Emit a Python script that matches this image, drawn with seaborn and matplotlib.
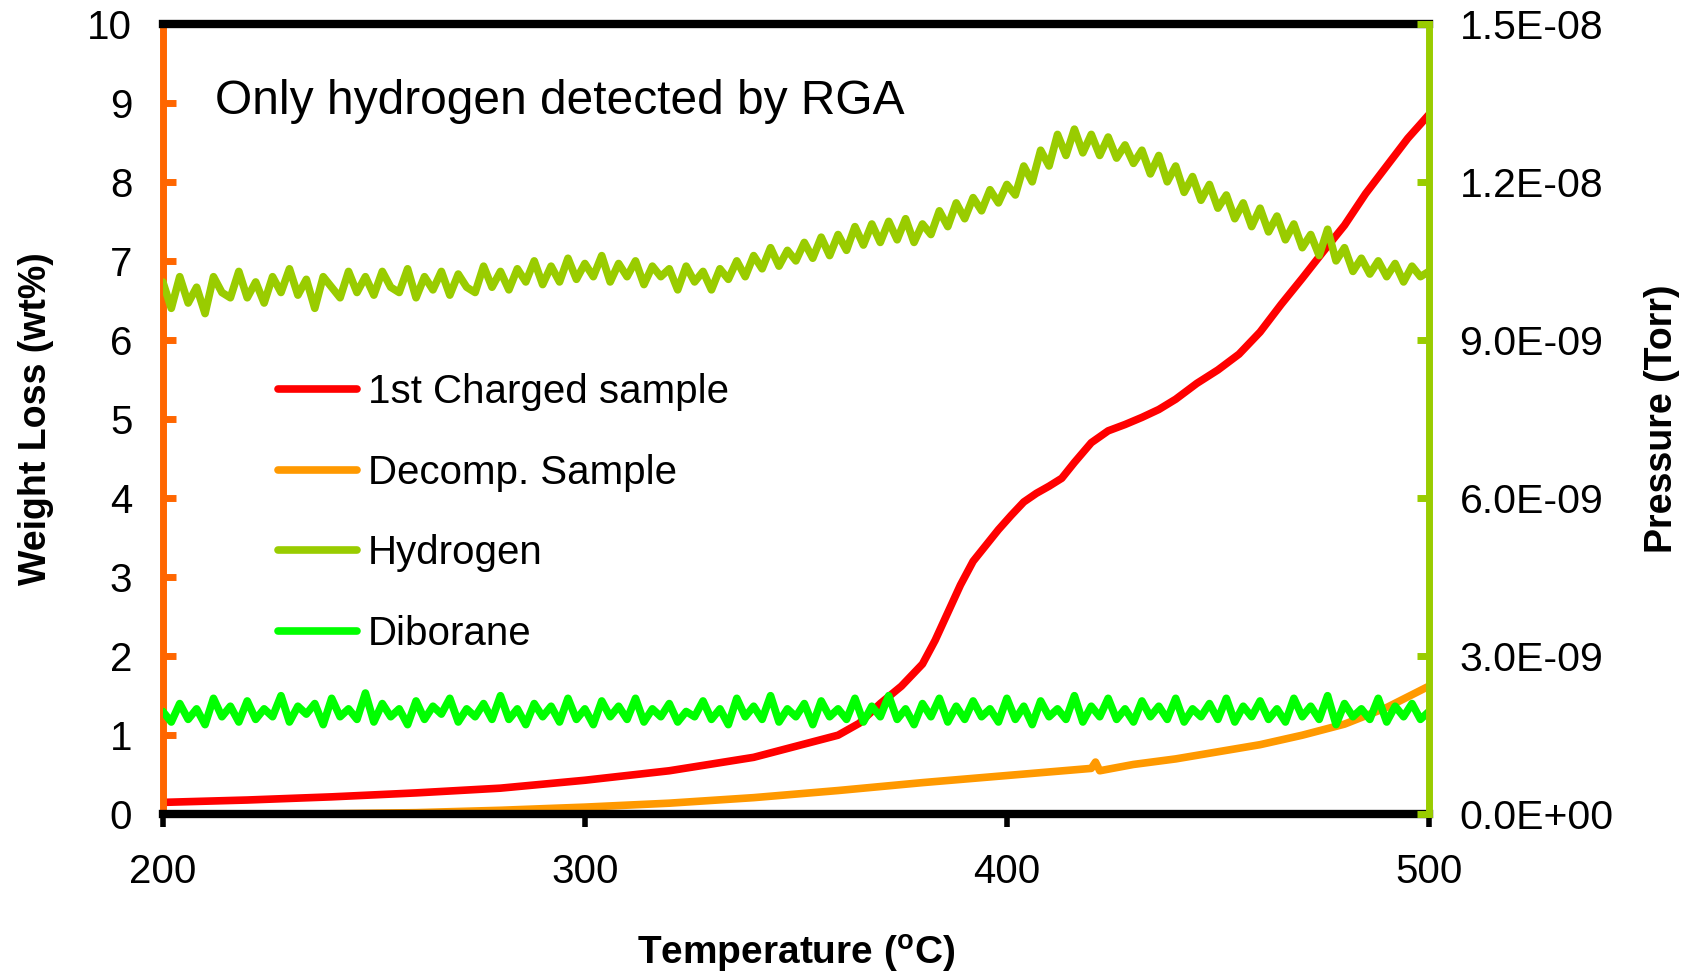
import matplotlib
matplotlib.use("Agg")
import matplotlib.pyplot as plt
import seaborn as sns
import numpy as np
import pandas as pd
from matplotlib.lines import Line2D
from matplotlib.ticker import FuncFormatter

# ---------------- data ----------------
# 1st charged sample weight loss (wt%)
charged_temp = [200, 220, 240, 260, 280, 300, 320, 340, 350, 360, 365, 370, 375, 380,
                383, 386, 389, 392, 395, 398, 401, 404, 407, 410, 413, 416, 420, 424,
                428, 432, 436, 440, 445, 450, 455, 460, 465, 470, 475, 480, 485, 490,
                495, 500]
charged_wt = [0.15, 0.18, 0.22, 0.27, 0.33, 0.43, 0.55, 0.72, 0.86, 1.00, 1.15, 1.40, 1.62, 1.90,
              2.20, 2.55, 2.90, 3.20, 3.40, 3.60, 3.78, 3.95, 4.06, 4.15, 4.25, 4.45, 4.70, 4.85,
              4.93, 5.02, 5.12, 5.25, 5.45, 5.62, 5.82, 6.10, 6.45, 6.78, 7.12, 7.45, 7.85, 8.20,
              8.55, 8.85]

# decomposed sample weight loss (wt%)
decomp_temp = [200, 230, 260, 280, 300, 320, 340, 360, 380, 400, 420, 421, 422, 430, 440,
               450, 460, 470, 480, 490, 500]
decomp_wt = [0.00, 0.00, 0.02, 0.05, 0.09, 0.14, 0.21, 0.30, 0.40, 0.49, 0.58, 0.66, 0.55, 0.63, 0.70,
             0.79, 0.88, 1.00, 1.14, 1.35, 1.62]

# RGA signals, sampled every 2 degC (pressure in units of 1E-09 Torr)
rga_temp = list(range(200, 501, 2))
hydrogen_ntorr = [
    10.1, 9.6, 10.2, 9.7, 10.0, 9.5, 10.2, 9.9, 9.8, 10.3,
    9.8, 10.1, 9.7, 10.2, 9.9, 10.35, 9.85, 10.15, 9.6, 10.2,
    10.0, 9.8, 10.3, 9.9, 10.2, 9.85, 10.3, 10.0, 9.9, 10.35,
    9.8, 10.2, 9.95, 10.3, 9.85, 10.25, 10.0, 9.9, 10.4, 10.0,
    10.3, 9.95, 10.35, 10.1, 10.5, 10.05, 10.4, 10.1, 10.55, 10.15,
    10.45, 10.2, 10.6, 10.1, 10.45, 10.2, 10.5, 10.05, 10.4, 10.2,
    10.35, 9.95, 10.4, 10.1, 10.3, 9.95, 10.35, 10.15, 10.5, 10.2,
    10.6, 10.35, 10.75, 10.4, 10.7, 10.5, 10.85, 10.55, 10.95, 10.6,
    11.0, 10.7, 11.15, 10.8, 11.2, 10.85, 11.25, 10.9, 11.3, 10.85,
    11.2, 11.0, 11.45, 11.15, 11.6, 11.3, 11.7, 11.45, 11.85, 11.6,
    11.95, 11.75, 12.3, 12.0, 12.6, 12.3, 12.9, 12.5, 13.0, 12.55,
    12.9, 12.5, 12.85, 12.45, 12.7, 12.35, 12.6, 12.15, 12.5, 12.0,
    12.3, 11.8, 12.1, 11.65, 11.95, 11.5, 11.75, 11.3, 11.6, 11.15,
    11.5, 11.05, 11.35, 10.9, 11.2, 10.75, 11.0, 10.6, 11.1, 10.5,
    10.75, 10.3, 10.55, 10.25, 10.5, 10.2, 10.45, 10.1, 10.4, 10.2,
    10.3]
diborane_ntorr = [
    1.95, 1.75, 2.1, 1.8, 2.0, 1.7, 2.2, 1.85, 2.05, 1.75,
    2.15, 1.8, 2.0, 1.85, 2.25, 1.75, 2.05, 1.9, 2.1, 1.7,
    2.2, 1.85, 2.0, 1.8, 2.3, 1.75, 2.1, 1.85, 2.0, 1.7,
    2.15, 1.8, 2.05, 1.9, 2.2, 1.75, 2.0, 1.85, 2.1, 1.8,
    2.25, 1.8, 2.0, 1.7, 2.1, 1.85, 2.05, 1.75, 2.2, 1.8,
    2.0, 1.7, 2.15, 1.85, 2.05, 1.8, 2.2, 1.75, 2.0, 1.85,
    2.1, 1.75, 1.95, 1.85, 2.15, 1.8, 2.0, 1.7, 2.2, 1.85,
    2.05, 1.8, 2.25, 1.75, 2.0, 1.85, 2.1, 1.7, 2.15, 1.85,
    2.0, 1.8, 2.2, 1.75, 2.05, 1.85, 2.25, 1.8, 2.0, 1.7,
    2.1, 1.85, 2.2, 1.75, 2.05, 1.8, 2.15, 1.85, 2.0, 1.75,
    2.2, 1.8, 2.05, 1.7, 2.15, 1.85, 2.0, 1.8, 2.25, 1.75,
    2.05, 1.85, 2.2, 1.8, 2.0, 1.75, 2.15, 1.85, 2.05, 1.8,
    2.2, 1.75, 2.0, 1.85, 2.1, 1.8, 2.2, 1.75, 2.05, 1.85,
    2.15, 1.8, 2.0, 1.75, 2.2, 1.85, 2.05, 1.8, 2.25, 1.7,
    2.1, 1.85, 2.0, 1.8, 2.2, 1.75, 2.05, 1.85, 2.1, 1.8,
    1.95]

series_labels = ["1st Charged sample", "Decomp. Sample", "Hydrogen", "Diborane"]
x_ticks = [200, 300, 400, 500]
left_ticks = [0, 1, 2, 3, 4, 5, 6, 7, 8, 9, 10]
right_ticks = [0.0, 3e-9, 6e-9, 9e-9, 1.2e-8, 1.5e-8]
annotation = "Only hydrogen detected by RGA"

# ---------------- style ----------------
sns.set_style("white")
plt.rcParams["font.family"] = ["Liberation Sans", "DejaVu Sans"]
plt.rcParams["mathtext.fontset"] = "custom"
plt.rcParams["mathtext.rm"] = "Liberation Sans"
plt.rcParams["mathtext.bf"] = "Liberation Sans:bold"
for k in ["text.color", "axes.labelcolor", "xtick.labelcolor", "ytick.labelcolor"]:
    plt.rcParams[k] = "black"

C_RED = "#FF0000"
C_ORANGE = "#FF9900"
C_H2 = "#99CC00"
C_B2H6 = "#00FF00"
C_LEFT = "#FF6600"

LW = 5.5
line_kw = dict(linewidth=LW, legend=False, solid_capstyle="round", solid_joinstyle="round")

fig = plt.figure(figsize=(16.91, 9.72), dpi=100)
ax = fig.add_axes([0.0963, 0.1623, 0.7487, 0.8133])
ax2 = ax.twinx()

df_c = pd.DataFrame({"T": charged_temp, "w": charged_wt})
df_d = pd.DataFrame({"T": decomp_temp, "w": decomp_wt})
df_r = pd.DataFrame({"T": rga_temp,
                     "h2": np.array(hydrogen_ntorr) * 1e-9,
                     "b2h6": np.array(diborane_ntorr) * 1e-9})

sns.lineplot(data=df_c, x="T", y="w", ax=ax, color=C_RED, **line_kw)
sns.lineplot(data=df_d, x="T", y="w", ax=ax, color=C_ORANGE, **line_kw)
sns.lineplot(data=df_r, x="T", y="h2", ax=ax2, color=C_H2, **line_kw)
sns.lineplot(data=df_r, x="T", y="b2h6", ax=ax2, color=C_B2H6, **line_kw)

ax.set_xlim(200, 500)
ax.set_ylim(0, 10)
ax2.set_ylim(0, 1.5e-8)
ax.set_xticks(x_ticks)
ax.set_yticks(left_ticks)
ax2.set_yticks(right_ticks)
ax2.yaxis.set_major_formatter(FuncFormatter(lambda v, p: f"{v:.1E}"))

# spines
for s in ["top", "bottom"]:
    ax.spines[s].set_color("black")
    ax.spines[s].set_linewidth(6)
ax.spines["left"].set_color(C_LEFT)
ax.spines["left"].set_linewidth(5)
ax.spines["right"].set_visible(False)
for s in ["top", "bottom", "left"]:
    ax2.spines[s].set_visible(False)
ax2.spines["right"].set_visible(True)
ax2.spines["right"].set_color(C_H2)
ax2.spines["right"].set_linewidth(5)

ax.tick_params(axis="y", direction="in", length=9, width=5, color=C_LEFT,
               labelsize=29, labelcolor="black", pad=22, left=True, right=False)
ax2.tick_params(axis="y", direction="in", length=9, width=5, color=C_H2,
                labelsize=29.5, labelcolor="black", pad=22, right=True, left=False)
ax.tick_params(axis="x", direction="out", length=9, width=4, color="black",
               labelsize=29, labelcolor="black", pad=19, bottom=True, top=False)

ax.set_xlabel(r"Temperature ($\mathbf{^{o}}$C)", fontsize=28, fontweight="bold",
              labelpad=30, color="black")
ax.set_ylabel("Weight Loss (wt%)", fontsize=27, fontweight="bold", labelpad=24, color="black")
ax2.set_ylabel("Pressure (Torr)", fontsize=27, fontweight="bold", labelpad=22, color="black")

ax.text(212.3, 9.02, annotation, fontsize=34.5, ha="left", va="center", color="black")

handles = [Line2D([0], [0], color=c, lw=LW, solid_capstyle="round")
           for c in [C_RED, C_ORANGE, C_H2, C_B2H6]]
ax2.legend(handles, series_labels, loc="center left", bbox_to_anchor=(0.091, 0.381),
           frameon=False, fontsize=29, handlelength=1.95, handletextpad=0.28,
           labelspacing=1.06, borderpad=0, borderaxespad=0, labelcolor="black")

ax.set_zorder(1)
ax2.set_zorder(2)
ax.patch.set_visible(False)

fig.savefig("out.png", dpi=100)
